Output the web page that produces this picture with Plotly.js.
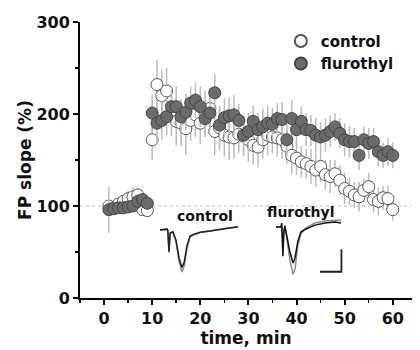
<!DOCTYPE html>
<html>
<head>
<meta charset="utf-8">
<script src="https://cdn.plot.ly/plotly-3.0.1.min.js"></script>
<style>html,body{margin:0;padding:0;background:#fff;}#chart{width:420px;height:350px;}</style>
</head>
<body>
<div id="chart"></div>
<script>
// ---- main time-course data ----
const baseTimes = [1, 2, 3, 4, 5, 6, 7, 8, 9];
const postTimes = [10,11,12,13,14,15,16,17,18,19,20,21,22,23,24,25,26,27,28,29,30,31,32,33,34,35,36,37,38,39,40,41,42,43,44,45,46,47,48,49,50,51,52,53,54,55,56,57,58,59,60];

const controlBase = [100, 98, 102, 105, 108, 110, 112, 96, 95];
const controlBaseErr = [6, 5, 5, 6, 8, 10, 8, 6, 5];
const flurothylBase = [96, 97, 98, 98, 99, 100, 105, 107, 103];
const flurothylBaseErr = [25, 6, 5, 5, 6, 5, 8, 7, 6];

const controlPost = [172, 232, 220, 225, 200, 192, 190, 184, 193, 199, 190, 200, 206, 181, 185, 177, 175, 174, 178, 176,
  172, 166, 164, 172, 177, 175, 174, 172, 165, 155, 152, 148, 146, 143, 139, 143, 134, 132, 135, 128,
  119, 116, 112, 110, 117, 121, 107, 105, 109, 108, 96];
const controlPostErr = [22, 27, 28, 25, 24, 26, 25, 28, 22, 24, 23, 25, 22, 26, 24, 23, 25, 22, 20, 22,
  24, 21, 22, 20, 22, 18, 20, 21, 19, 20, 18, 17, 16, 19, 18, 17, 16, 18, 15, 16,
  17, 15, 14, 16, 13, 15, 14, 15, 13, 14, 12];
const flurothylPost = [201, 190, 193, 197, 208, 208, 197, 202, 212, 215, 208, 195, 201, 223, 188, 196, 198, 199, 193, 177,
  181, 192, 183, 186, 190, 189, 195, 194, 172, 195, 183, 192, 183, 182, 177, 175, 177, 181, 186, 179,
  172, 170, 170, 155, 172, 168, 170, 159, 155, 159, 155];
const flurothylPostErr = [20, 22, 21, 20, 18, 22, 19, 20, 18, 19, 22, 20, 18, 20, 19, 21, 20, 22, 18, 19,
  20, 17, 18, 20, 19, 18, 17, 19, 18, 20, 17, 16, 18, 17, 19, 16, 18, 17, 15, 16,
  18, 17, 15, 16, 14, 17, 15, 16, 14, 15, 14];

const xTickVals = [0, 10, 20, 30, 40, 50, 60];
const yTickVals = [0, 100, 200, 300];
const baselineRef = 100;

// ---- inset field-potential traces (ms, mV) ----
const ctlT     = [0, 1.8, 2.0, 2.3, 2.6, 3.3, 4.1, 4.9, 5.6, 6.2, 6.9, 7.7, 8.7, 10.3, 12.8, 15.4, 17.9, 20];
const ctlBlack = [-0.03, 0, -0.05, -0.9, -0.15, -0.1, -0.43, -1.14, -1.5, -1.3, -0.66, -0.27, -0.2, -0.12, -0.07, 0, 0.04, 0.08];
const ctlGrey  = [-0.03, 0, -0.05, -0.8, -0.15, -0.12, -0.5, -1.25, -1.68, -1.45, -0.75, -0.3, -0.22, -0.13, -0.07, 0, 0.05, 0.1];

const fluT     = [0, 1.3, 1.5, 1.8, 2.05, 2.3, 2.8, 3.6, 4.4, 4.9, 5.6, 6.4, 7.7, 10, 12.6, 15.1, 16.7];
const fluBlack = [-0.15, -0.15, 0.0, -1.29, -0.35, -0.1, -0.5, -1.13, -1.56, -1.37, -0.74, -0.35, -0.23, -0.08, 0.0, 0.04, 0.0];
const fluGrey  = [-0.15, -0.15, -0.1, -0.9, -0.3, -0.2, -0.6, -1.45, -2.0, -1.8, -0.9, -0.4, -0.2, 0.0, 0.08, 0.12, 0.12];

const scaleBarX = [11.3, 16.8, 16.8];
const scaleBarY = [-1.9, -1.9, -1.02];

const FONT = "DejaVu Sans, Arial, sans-serif";

const controlX = baseTimes.concat(postTimes);
const controlY = controlBase.concat(controlPost);
const controlE = controlBaseErr.concat(controlPostErr);
const fluX = baseTimes.concat(postTimes);
const fluY = flurothylBase.concat(flurothylPost);
const fluE = flurothylBaseErr.concat(flurothylPostErr);

const traces = [
  {
    x: controlX, y: controlY, type: 'scatter', mode: 'markers', name: 'control',
    marker: {size: 12, color: '#ffffff', line: {color: '#555555', width: 1}},
    error_y: {type: 'data', array: controlE, visible: true, color: '#bbbbbb', thickness: 1.5, width: 0},
    cliponaxis: false
  },
  {
    x: fluX, y: fluY, type: 'scatter', mode: 'markers', name: 'flurothyl',
    marker: {size: 12, color: '#6b6b6b', line: {color: '#444444', width: 1}},
    error_y: {type: 'data', array: fluE, visible: true, color: '#bbbbbb', thickness: 1.5, width: 0},
    cliponaxis: false
  },
  {x: ctlT, y: ctlGrey, xaxis: 'x2', yaxis: 'y2', mode: 'lines', line: {color: '#8a8a8a', width: 1.5}, showlegend: false, hoverinfo: 'skip'},
  {x: ctlT, y: ctlBlack, xaxis: 'x2', yaxis: 'y2', mode: 'lines', line: {color: '#222222', width: 1.5}, showlegend: false, hoverinfo: 'skip'},
  {x: fluT, y: fluGrey, xaxis: 'x3', yaxis: 'y3', mode: 'lines', line: {color: '#8a8a8a', width: 1.5}, showlegend: false, hoverinfo: 'skip'},
  {x: fluT, y: fluBlack, xaxis: 'x3', yaxis: 'y3', mode: 'lines', line: {color: '#111111', width: 1.5}, showlegend: false, hoverinfo: 'skip'},
  {x: scaleBarX, y: scaleBarY, xaxis: 'x3', yaxis: 'y3', mode: 'lines', line: {color: '#222222', width: 1.8}, showlegend: false, hoverinfo: 'skip'}
];

const hidden = {visible: false, fixedrange: true};

const layout = {
  width: 420, height: 350,
  margin: {l: 80, r: 8, t: 22, b: 52},
  paper_bgcolor: '#ffffff', plot_bgcolor: '#ffffff',
  showlegend: true,
  legend: {
    x: 0.605, y: 0.99, xanchor: 'left', yanchor: 'top',
    bgcolor: 'rgba(0,0,0,0)', font: {family: FONT, size: 15, color: '#111', weight: 'bold'},
    itemsizing: 'constant', tracegroupgap: 0, itemwidth: 30
  },
  xaxis: {
    range: [-5, 64], tickvals: xTickVals, showgrid: false, zeroline: false,
    showline: true, linecolor: '#000', linewidth: 2,
    ticks: 'outside', ticklen: 5, tickwidth: 2, tickcolor: '#000',
    minor: {dtick: 5, tick0: 0, ticks: 'outside', ticklen: 3, tickwidth: 1.5, tickcolor: '#000', showgrid: false},
    tickfont: {family: FONT, size: 16, color: '#111', weight: 'bold'},
    title: {text: 'time, min', font: {family: FONT, size: 17, color: '#111', weight: 'bold'}, standoff: 2}
  },
  yaxis: {
    range: [0, 300], tickvals: yTickVals, showgrid: false, zeroline: false,
    showline: true, linecolor: '#000', linewidth: 2,
    ticks: 'outside', ticklen: 5, tickwidth: 2, tickcolor: '#000',
    minor: {dtick: 50, tick0: 0, ticks: 'outside', ticklen: 3, tickwidth: 1.5, tickcolor: '#000', showgrid: false},
    tickfont: {family: FONT, size: 16, color: '#111', weight: 'bold'}
  },
  xaxis2: Object.assign({domain: [0.241, 0.476], range: [0, 20], anchor: 'y2'}, hidden),
  yaxis2: Object.assign({domain: [0.083, 0.268], range: [-1.8, 0.2], anchor: 'x2'}, hidden),
  xaxis3: Object.assign({domain: [0.590, 0.825], range: [0, 20], anchor: 'y3'}, hidden),
  yaxis3: Object.assign({domain: [0.072, 0.290], range: [-2.15, 0.2], anchor: 'x3'}, hidden),
  shapes: [
    {type: 'line', xref: 'x', yref: 'y', x0: -5, x1: 64, y0: baselineRef, y1: baselineRef,
     line: {color: '#bdbdbd', width: 1, dash: 'dot'}, layer: 'below'}
  ],
  annotations: [
    {text: 'FP slope (%)', xref: 'paper', yref: 'paper', x: -0.166, y: 0.5, xanchor: 'center', yanchor: 'middle',
     textangle: -90, showarrow: false, font: {family: FONT, size: 17, color: '#111', weight: 'bold'}},
    {text: 'control', xref: 'paper', yref: 'paper', x: 0.377, y: 0.297, xanchor: 'center', yanchor: 'middle', showarrow: false,
     font: {family: FONT, size: 14, color: '#111', weight: 'bold'}},
    {text: 'flurothyl', xref: 'paper', yref: 'paper', x: 0.663, y: 0.312, xanchor: 'center', yanchor: 'middle', showarrow: false,
     font: {family: FONT, size: 14, color: '#111', weight: 'bold'}}
  ]
};

Plotly.newPlot('chart', traces, layout, {displayModeBar: false, staticPlot: true});
</script>
</body>
</html>
